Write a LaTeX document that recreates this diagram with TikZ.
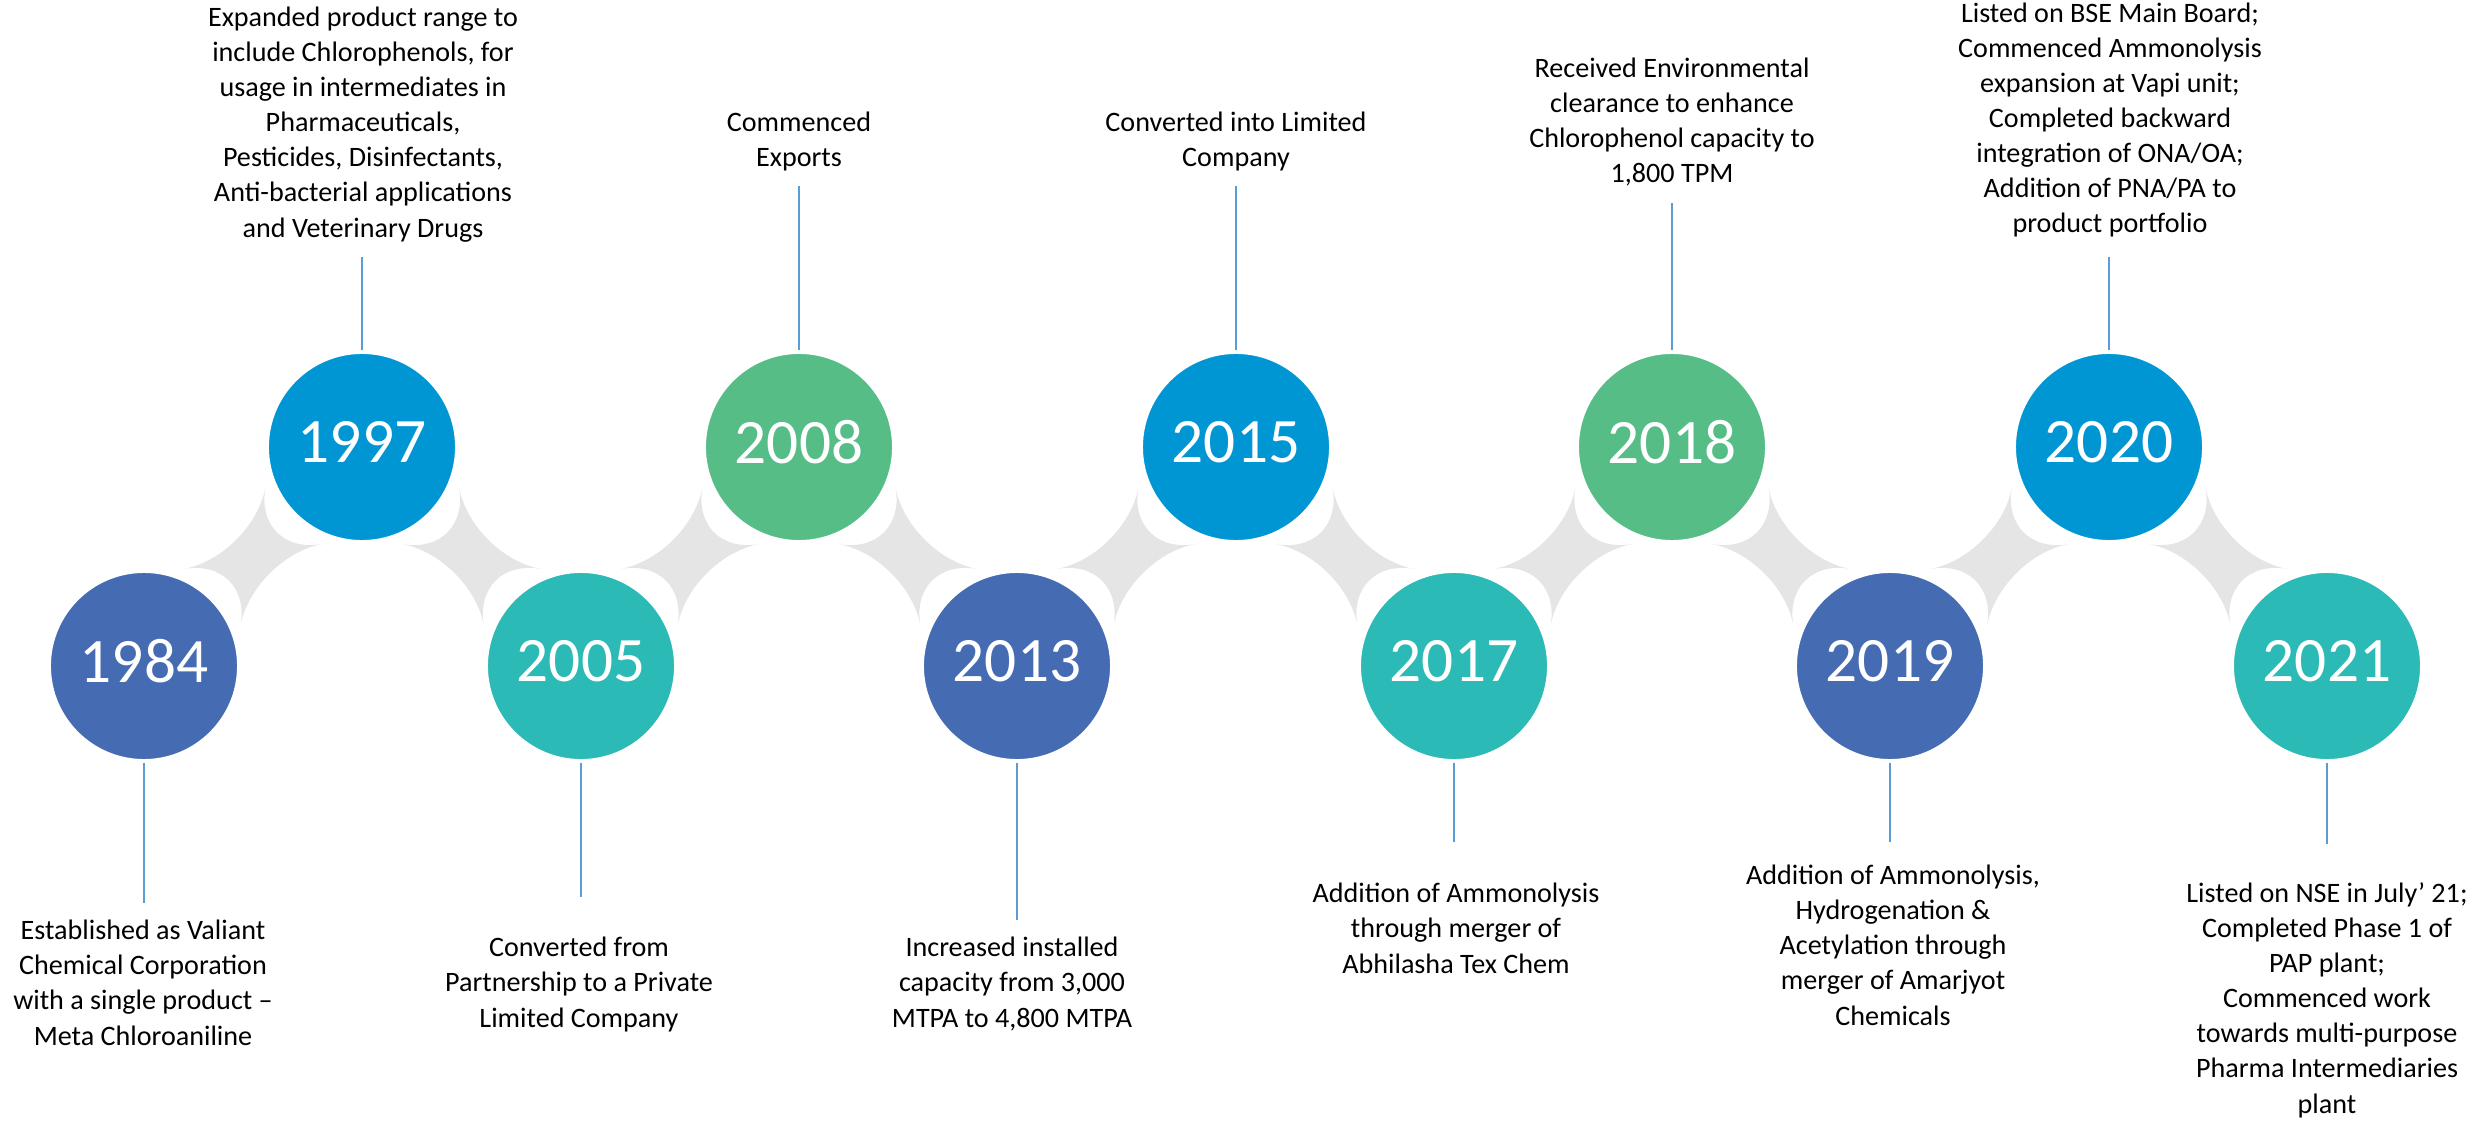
\documentclass[tikz,border=0pt]{standalone}
\usepackage{fontspec}
\setmainfont{Carlito}

\definecolor{ttwwbb}{rgb}{0.27, 0.42, 0.70}
\definecolor{qqzzcc}{rgb}{0, 0.59, 0.83}
\definecolor{ttbbbb}{rgb}{0.17, 0.73, 0.71}
\definecolor{wwbbzz}{rgb}{0.34, 0.74, 0.53}
\definecolor{eeeeee}{rgb}{0.9, 0.9, 0.9}
\definecolor{wwzzdd}{rgb}{0.36, 0.61, 0.84}

\tikzset{
    yearball/.style={circle, minimum size=1.93cm, inner sep=0pt, outer sep=0pt, draw=white, line width=0.07cm, text=white, font=\fontsize{18}{22}\selectfont},
    note/.style={align=center, anchor=base, inner sep=0pt, font=\fontsize{8}{9.96}\selectfont},
    stem/.style={color=wwzzdd, line width=0.5pt}
}

\begin{document}
\begin{tikzpicture}[x=0.01cm, y=0.01cm]
        \useasboundingbox (0,0) rectangle (2481,1120);

        % estrellas grises
        \foreach \mx/\s in {253/1, 471.5/-1, 690/1, 908/-1, 1126/1, 1345/-1, 1563/1, 1781/-1, 1999.5/1, 2218/-1}
        \fill[color=eeeeee, shift={(\mx,563.5)}, xscale=\s] (-69.5,-12.5) .. controls (-31.3,-5.6) and (5.6,31.3) .. (12.5,69.5) .. controls (5.6,31.3) and (31.3,5.6) .. (69.5,12.5) .. controls (31.3,5.6) and (-5.6,-31.3) .. (-12.5,-69.5) .. controls (-5.6,-31.3) and (-31.3,-5.6) .. cycle;

        % circulos
        \foreach \yr/\cx/\cy/\col in {1984/144/454/ttwwbb, 1997/362/673/qqzzcc, 2005/581/454/ttbbbb, 2008/799/673/wwbbzz, 2013/1017/454/ttwwbb, 2015/1236/673/qqzzcc, 2017/1454/454/ttbbbb, 2018/1672/673/wwbbzz, 2019/1890/454/ttwwbb, 2020/2109/673/qqzzcc, 2021/2327/454/ttbbbb}
        \node[yearball, fill=\col] (y\yr) at (\cx,\cy) {\raisebox{3pt}{\yr}};

        % textos arriba (base = ultima linea)
        \node[note] (t1997) at (363,883) {Expanded product range to\\include Chlorophenols, for\\usage in intermediates in\\Pharmaceuticals,\\Pesticides, Disinfectants,\\Anti-bacterial applications\\and Veterinary Drugs};
        \node[note] (t2008) at (799,953) {Commenced\\Exports};
        \node[note] (t2015) at (1236,953) {Converted into Limited\\Company};
        \node[note] (t2018) at (1672,937) {Received Environmental\\clearance to enhance\\Chlorophenol capacity to\\1,800 TPM};
        \node[note] (t2020) at (2110,887) {Listed on BSE Main Board;\\Commenced Ammonolysis\\expansion at Vapi unit;\\Completed backward\\integration of ONA/OA;\\Addition of PNA/PA to\\product portfolio};

        % textos abajo
        \node[note] (t1984) at (143,75) {Established as Valiant\\Chemical Corporation\\with a single product –\\Meta Chloroaniline};
        \node[note] (t2005) at (579,93) {Converted from\\Partnership to a Private\\Limited Company};
        \node[note] (t2013) at (1012,93) {Increased installed\\capacity from 3,000\\MTPA to 4,800 MTPA};
        \node[note] (t2017) at (1456,147) {Addition of Ammonolysis\\through merger of\\Abhilasha Tex Chem};
        \node[note] (t2019) at (1893,95) {Addition of Ammonolysis,\\Hydrogenation \&\\Acetylation through\\merger of Amarjyot\\Chemicals};
        \node[note] (t2021) at (2327,7) {Listed on NSE in July’ 21;\\Completed Phase 1 of\\PAP plant;\\Commenced work\\towards multi-purpose\\Pharma Intermediaries\\plant};

        % lineas
        \coordinate (e1997) at (362,863);
        \coordinate (e2008) at (799,934);
        \coordinate (e2015) at (1236,934);
        \coordinate (e2018) at (1672,917);
        \coordinate (e2020) at (2109,863);
        \coordinate (e1984) at (144,217);
        \coordinate (e2005) at (581,223);
        \coordinate (e2013) at (1017,200);
        \coordinate (e2017) at (1454,278);
        \coordinate (e2019) at (1890,278);
        \coordinate (e2021) at (2327,276);
        \foreach \yr in {1984, 1997, 2005, 2008, 2013, 2015, 2017, 2018, 2019, 2020, 2021}
        \draw[stem] (y\yr) -- (e\yr);
\end{tikzpicture}
\end{document}
